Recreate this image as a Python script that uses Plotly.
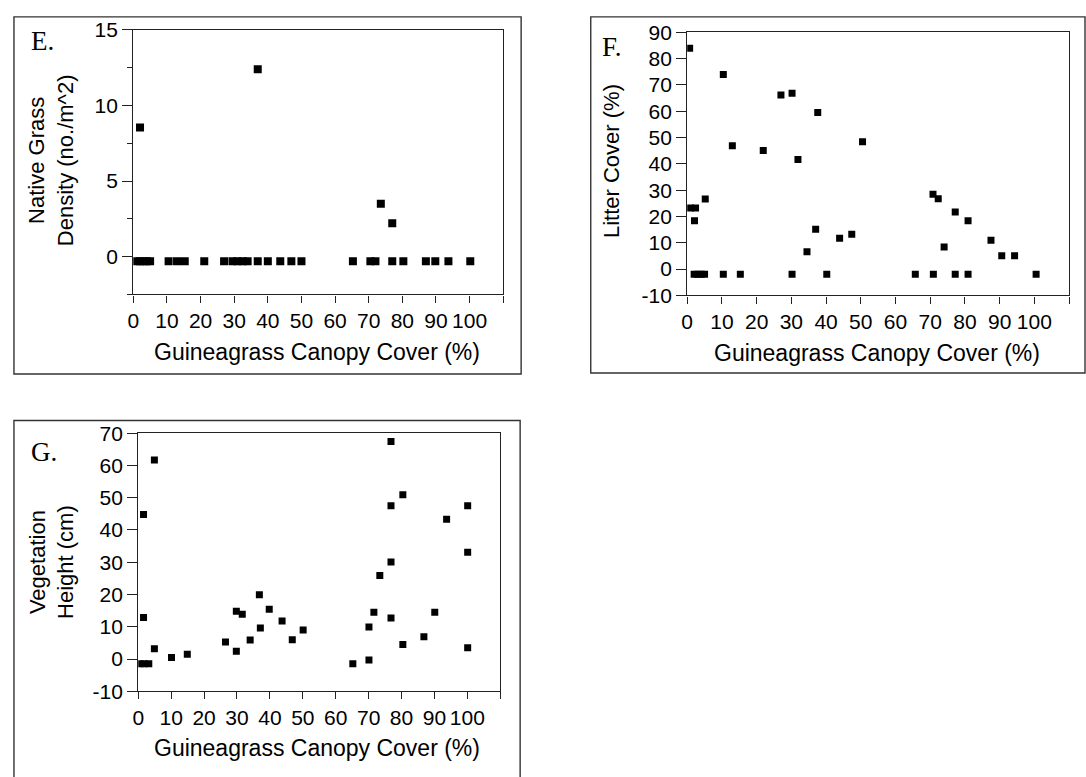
import plotly.graph_objects as go

W, H = 1086, 777

# ---- Data ----
E_x = [1, 2, 3, 4, 5, 10.5, 13, 15.3, 21.1, 27, 29.5, 31, 32.5, 34, 37, 40, 43.7, 47, 50,
       65.3, 70.5, 72, 77, 80.3, 87, 89.8, 93.7, 100.2, 2, 37, 73.6, 77]
E_y = [-0.3, -0.3, -0.3, -0.3, -0.3, -0.3, -0.3, -0.3, -0.3, -0.3, -0.3, -0.3, -0.3, -0.3,
       -0.3, -0.3, -0.3, -0.3, -0.3, -0.3, -0.3, -0.3, -0.3, -0.3, -0.3, -0.3, -0.3, -0.3,
       8.55, 12.4, 3.5, 2.2]

F_x = [0.7, 10.4, 27.0, 30.2, 37.6, 13.0, 21.9, 31.9, 50.5, 5.2, 0.9, 2.4, 2.1, 37.0, 43.9,
       47.4, 34.5, 70.8, 72.3, 77.2, 80.9, 87.5, 74.0, 90.6, 94.3,
       2, 3, 4, 5, 10.4, 15.3, 30.2, 40.2, 65.7, 70.9, 77.2, 80.9, 100.5]
F_y = [84.0, 74.0, 66.2, 66.9, 59.5, 46.9, 45.1, 41.7, 48.4, 26.6, 23.2, 23.2, 18.4, 15.1, 11.7,
       13.2, 6.6, 28.4, 26.7, 21.7, 18.4, 11.0, 8.4, 5.1, 5.1,
       -2, -2, -2, -2, -2, -2, -2, -2, -2, -2, -2, -2, -2]

G_x = [4.9, 1.6, 1.6, 4.9, 10.1, 14.9, 26.5, 29.8, 29.8, 31.6, 36.8, 39.8, 37.1, 34.0, 43.7,
       46.8, 50.1, 0.5, 1.8, 3.2, 76.8, 80.4, 76.8, 100.1, 93.7, 100.1, 76.8, 73.4, 71.6, 90.1,
       76.8, 70.1, 86.8, 80.4, 100.1, 70.1, 65.2]
G_y = [61.7, 44.8, 12.9, 3.2, 0.5, 1.5, 5.3, 2.4, 14.8, 13.9, 19.9, 15.4, 9.6, 5.9, 11.8,
       6.0, 9.0, -1.5, -1.5, -1.5, 67.4, 50.9, 47.5, 47.5, 43.3, 33.1, 30.1, 25.9, 14.5, 14.5,
       12.7, 9.9, 6.9, 4.5, 3.5, -0.3, -1.5]

x_ticks = [0, 10, 20, 30, 40, 50, 60, 70, 80, 90, 100, 110]
x_ticktext = ["0", "10", "20", "30", "40", "50", "60", "70", "80", "90", "100", ""]
E_yticks = [0, 5, 10, 15]
E_yticktext = ["0", "5", "10", "15"]
E_yminor = [-2.5, 2.5, 7.5, 12.5]
F_yticks = [-10, 0, 10, 20, 30, 40, 50, 60, 70, 80, 90]
F_yticktext = ["-10", "0", "10", "20", "30", "40", "50", "60", "70", "80", "90"]
G_yticks = [-10, 0, 10, 20, 30, 40, 50, 60, 70]
G_yticktext = ["-10", "0", "10", "20", "30", "40", "50", "60", "70"]

x_title = "Guineagrass Canopy Cover (%)"
E_ytitle = "Native Grass<br>Density (no./m^2)"
F_ytitle = "Litter Cover (%)"
G_ytitle = "Vegetation<br>Height (cm)"

SANS = "Liberation Sans, Arial, sans-serif"
SERIF = "Liberation Serif, Times New Roman, serif"
AX = "#222222"


def px(x):
    return x / W


def py(y):
    return 1 - y / H


fig = go.Figure()
fig.add_trace(go.Scatter(x=E_x, y=E_y, mode="markers", xaxis="x", yaxis="y",
                         marker=dict(symbol="square", size=8, color="black")))
fig.add_trace(go.Scatter(x=F_x, y=F_y, mode="markers", xaxis="x2", yaxis="y2",
                         marker=dict(symbol="square", size=7, color="black")))
fig.add_trace(go.Scatter(x=G_x, y=G_y, mode="markers", xaxis="x3", yaxis="y3",
                         marker=dict(symbol="square", size=7, color="black")))


def xax(domain, anchor):
    return dict(domain=domain, anchor=anchor, range=[0, 110], tickmode="array",
                tickvals=x_ticks, ticktext=x_ticktext, ticks="outside", ticklen=7,
                tickcolor=AX, tickwidth=1.2, showline=True, linecolor=AX, linewidth=1.3,
                mirror=True, showgrid=False, zeroline=False,
                tickfont=dict(family=SANS, size=21, color="#000"))


def yax(domain, anchor, rng, ticks, text, minor=None):
    d = dict(domain=domain, anchor=anchor, range=rng, tickmode="array", tickvals=ticks,
             ticktext=text, ticks="outside", ticklen=10, tickcolor=AX, tickwidth=1.2,
             showline=True, linecolor=AX, linewidth=1.3, mirror=True, showgrid=False,
             zeroline=False, tickfont=dict(family=SANS, size=21, color="#000"))
    if minor:
        d["minor"] = dict(tickmode="array", tickvals=minor, ticks="outside", ticklen=5,
                          tickcolor=AX, tickwidth=1.2, showgrid=False)
    return d


fig.update_layout(
    width=W, height=H, margin=dict(l=0, r=0, t=0, b=0),
    paper_bgcolor="white", plot_bgcolor="white", showlegend=False,
    xaxis=xax([px(128), px(500)], "y"),
    yaxis=yax([py(291), py(18.5)], "x", [-2.5, 15], E_yticks, E_yticktext, E_yminor),
    xaxis2=xax([px(685), px(1069)], "y2"),
    yaxis2=yax([py(292), py(21)], "x2", [-10, 90], F_yticks, F_yticktext),
    xaxis3=xax([px(133), px(497)], "y3"),
    yaxis3=yax([py(700), py(434)], "x3", [-10, 70], G_yticks, G_yticktext),
)

# outer panel boxes
box = dict(type="rect", xref="paper", yref="paper", line=dict(color="#333333", width=1.4),
           fillcolor="rgba(0,0,0,0)", layer="below")
fig.add_shape(**box, x0=px(8), x1=px(518), y0=py(373), y1=py(5))
fig.add_shape(**box, x0=px(588), x1=px(1085), y0=py(372), y1=py(5))
fig.add_shape(**box, x0=px(8), x1=px(517), y0=py(790), y1=py(421))

ann = []
# x titles
for cx, cy in [(312.5, 350), (876, 351), (313, 758)]:
    ann.append(dict(text=x_title, x=px(cx), y=py(cy), xref="paper", yref="paper",
                    xanchor="center", yanchor="middle", showarrow=False,
                    font=dict(family=SANS, size=23, color="#000")))
# y titles
for t, cx, cy in [(E_ytitle, 46, 153), (F_ytitle, 609, 154), (G_ytitle, 46, 567)]:
    ann.append(dict(text=t, x=px(cx), y=py(cy), xref="paper", yref="paper",
                    xanchor="center", yanchor="middle", showarrow=False, textangle=-90,
                    font=dict(family=SANS, size=22, color="#000")))
# panel letters
for t, lx, cy in [("E.", 23, 30), ("F.", 597, 36), ("G.", 23, 453.5)]:
    ann.append(dict(text=t, x=px(lx), y=py(cy), xref="paper", yref="paper",
                    xanchor="left", yanchor="middle", showarrow=False,
                    font=dict(family=SERIF, size=27, color="#000")))
fig.update_layout(annotations=ann)

fig.write_html("out.html")
